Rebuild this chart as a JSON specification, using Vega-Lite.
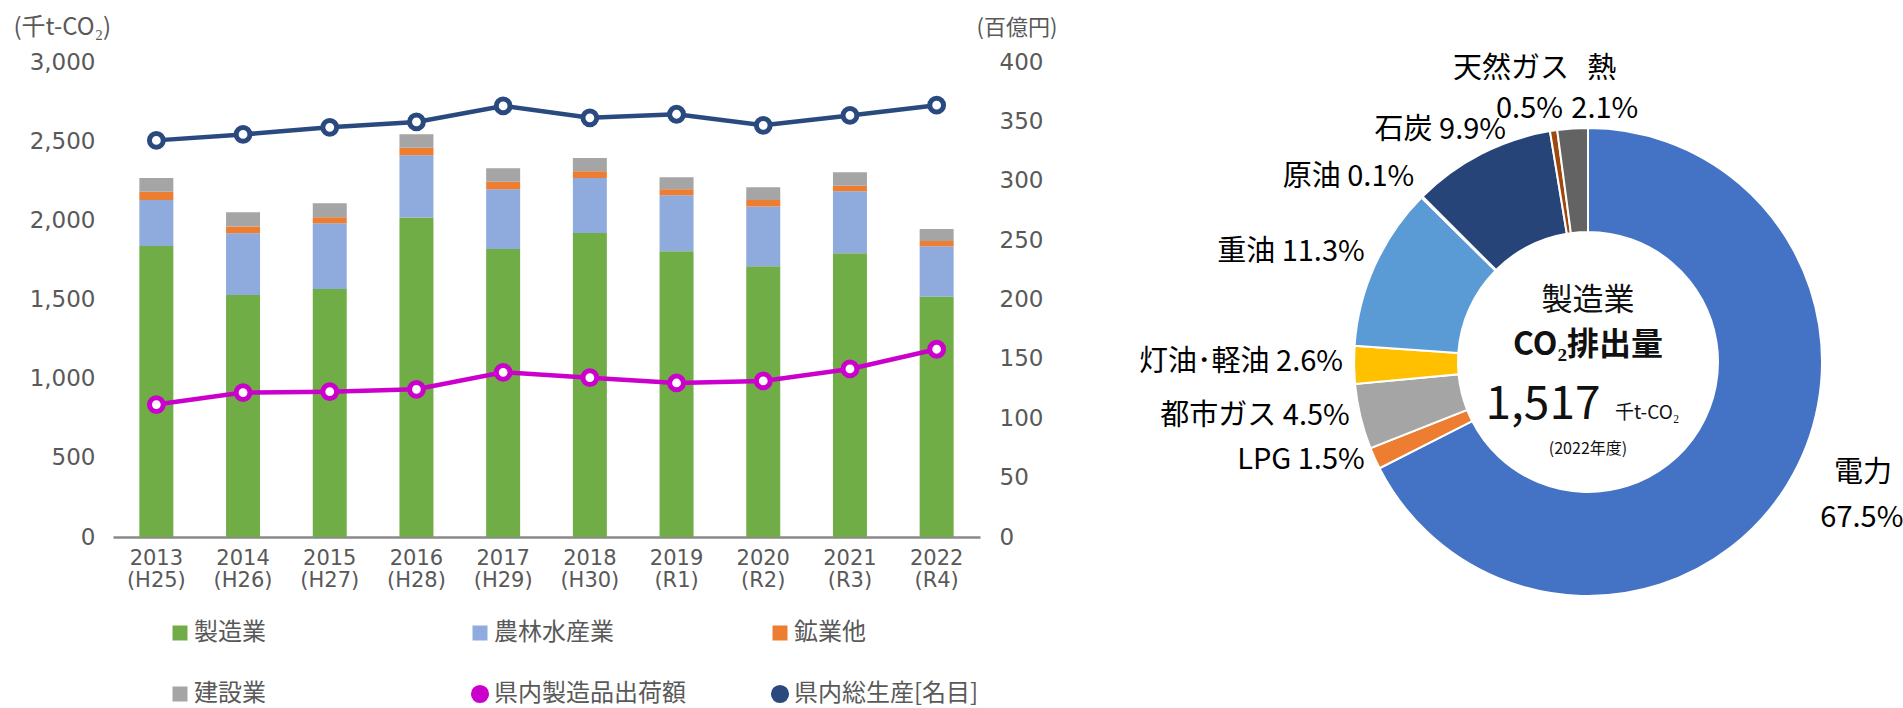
{
  "$schema": "https://vega.github.io/schema/vega-lite/v6.json",
  "padding": {"left": 13, "top": 15, "right": 2, "bottom": 2},
  "background": "white",
  "bounds": "flush",
  "spacing": 348,
  "config": {"view": {"stroke": null}, "font": "Noto Sans CJK JP", "axis": {"grid": false}},
  "resolve": {"scale": {"color": "independent"}, "legend": {"color": "independent"}},
  "hconcat": [
    {
      "width": 867,
      "height": 475,
      "layer": [
        {
          "data": {"values": [
            {"year": "2013 (H25)", "cat": "製造業", "k": 1, "v": 1838},
            {"year": "2013 (H25)", "cat": "農林水産業", "k": 2, "v": 291},
            {"year": "2013 (H25)", "cat": "鉱業他", "k": 3, "v": 51},
            {"year": "2013 (H25)", "cat": "建設業", "k": 4, "v": 88},
            {"year": "2014 (H26)", "cat": "製造業", "k": 1, "v": 1528},
            {"year": "2014 (H26)", "cat": "農林水産業", "k": 2, "v": 390},
            {"year": "2014 (H26)", "cat": "鉱業他", "k": 3, "v": 43},
            {"year": "2014 (H26)", "cat": "建設業", "k": 4, "v": 90},
            {"year": "2015 (H27)", "cat": "製造業", "k": 1, "v": 1566},
            {"year": "2015 (H27)", "cat": "農林水産業", "k": 2, "v": 416},
            {"year": "2015 (H27)", "cat": "鉱業他", "k": 3, "v": 38},
            {"year": "2015 (H27)", "cat": "建設業", "k": 4, "v": 88},
            {"year": "2016 (H28)", "cat": "製造業", "k": 1, "v": 2018},
            {"year": "2016 (H28)", "cat": "農林水産業", "k": 2, "v": 393},
            {"year": "2016 (H28)", "cat": "鉱業他", "k": 3, "v": 47},
            {"year": "2016 (H28)", "cat": "建設業", "k": 4, "v": 86},
            {"year": "2017 (H29)", "cat": "製造業", "k": 1, "v": 1819},
            {"year": "2017 (H29)", "cat": "農林水産業", "k": 2, "v": 378},
            {"year": "2017 (H29)", "cat": "鉱業他", "k": 3, "v": 46},
            {"year": "2017 (H29)", "cat": "建設業", "k": 4, "v": 86},
            {"year": "2018 (H30)", "cat": "製造業", "k": 1, "v": 1920},
            {"year": "2018 (H30)", "cat": "農林水産業", "k": 2, "v": 348},
            {"year": "2018 (H30)", "cat": "鉱業他", "k": 3, "v": 42},
            {"year": "2018 (H30)", "cat": "建設業", "k": 4, "v": 83},
            {"year": "2019 (R1)", "cat": "製造業", "k": 1, "v": 1805},
            {"year": "2019 (R1)", "cat": "農林水産業", "k": 2, "v": 354},
            {"year": "2019 (R1)", "cat": "鉱業他", "k": 3, "v": 38},
            {"year": "2019 (R1)", "cat": "建設業", "k": 4, "v": 75},
            {"year": "2020 (R2)", "cat": "製造業", "k": 1, "v": 1710},
            {"year": "2020 (R2)", "cat": "農林水産業", "k": 2, "v": 377},
            {"year": "2020 (R2)", "cat": "鉱業他", "k": 3, "v": 42},
            {"year": "2020 (R2)", "cat": "建設業", "k": 4, "v": 80},
            {"year": "2021 (R3)", "cat": "製造業", "k": 1, "v": 1792},
            {"year": "2021 (R3)", "cat": "農林水産業", "k": 2, "v": 392},
            {"year": "2021 (R3)", "cat": "鉱業他", "k": 3, "v": 34},
            {"year": "2021 (R3)", "cat": "建設業", "k": 4, "v": 86},
            {"year": "2022 (R4)", "cat": "製造業", "k": 1, "v": 1517},
            {"year": "2022 (R4)", "cat": "農林水産業", "k": 2, "v": 319},
            {"year": "2022 (R4)", "cat": "鉱業他", "k": 3, "v": 34},
            {"year": "2022 (R4)", "cat": "建設業", "k": 4, "v": 76}
          ]},
          "mark": {"type": "bar"},
          "encoding": {
            "x": {
              "field": "year", "type": "nominal", "sort": null,
              "scale": {"paddingInner": 0.608, "paddingOuter": 0.304},
              "axis": {
                "title": null, "labelAngle": 0, "ticks": false,
                "labelExpr": "split(datum.value, ' ')",
                "labelFont": "DejaVu Sans", "labelFontSize": 21, "labelColor": "#595959",
                "labelLineHeight": 22, "labelBaseline": "top", "labelPadding": 10,
                "domainColor": "#8a8a8a", "domainWidth": 2.5
              }
            },
            "y": {
              "field": "v", "type": "quantitative", "stack": "zero",
              "scale": {"domain": [0, 3000], "nice": false},
              "axis": {
                "values": [0, 500, 1000, 1500, 2000, 2500, 3000], "format": ",.0f",
                "domain": false, "ticks": false, "labelPadding": 18,
                "labelFont": "DejaVu Sans", "labelFontSize": 23, "labelColor": "#595959",
                "title": "(千t-CO₂)", "titleAngle": 0, "titleAlign": "left", "titleBaseline": "middle",
                "titleX": -100, "titleY": -35, "titleFont": "Noto Sans CJK JP", "titleFontSize": 24,
                "titleFontWeight": "normal", "titleColor": "#595959"
              }
            },
            "color": {
              "field": "cat", "type": "nominal",
              "scale": {
                "domain": ["製造業", "農林水産業", "鉱業他", "建設業", "県内製造品出荷額", "県内総生産[名目]"],
                "range": ["#70AD47", "#8FAADC", "#ED7D31", "#A5A5A5", "#CC00CC", "#2A4A7F"]
              },
              "legend": {
                "orient": "none", "legendX": 55, "legendY": 557, "direction": "horizontal",
                "columns": 3, "title": null, "padding": 0,
                "columnPadding": 78, "rowPadding": 31, "gridAlign": "all",
                "labelFontSize": 24, "labelColor": "#595959", "labelFont": "Noto Sans CJK JP",
                "labelLimit": 400, "labelOffset": 2,
                "symbolType": "square", "symbolSize": 225,
                "encode": {
                  "symbols": {
                    "update": {
                      "shape": {"signal": "(datum.value == '県内製造品出荷額' || datum.value == '県内総生産[名目]') ? 'circle' : 'square'"},
                      "fill": {"signal": "datum.value == '製造業' ? '#70AD47' : datum.value == '農林水産業' ? '#8FAADC' : datum.value == '鉱業他' ? '#ED7D31' : datum.value == '建設業' ? '#A5A5A5' : '#ffffff'"},
                      "stroke": {"signal": "datum.value == '県内製造品出荷額' ? '#CC00CC' : datum.value == '県内総生産[名目]' ? '#2A4A7F' : 'transparent'"},
                      "strokeWidth": {"signal": "(datum.value == '県内製造品出荷額' || datum.value == '県内総生産[名目]') ? 4 : 0"},
                      "size": {"signal": "(datum.value == '県内製造品出荷額' || datum.value == '県内総生産[名目]') ? 200 : 225"},
                      "opacity": {"value": 1},
                      "fillOpacity": {"value": 1}
                    }
                  }
                }
              }
            },
            "order": {"field": "k", "type": "quantitative"}
          }
        },
        {
          "data": {"values": [
            {"year": "2013 (H25)", "cat": "県内製造品出荷額", "v": 111.5},
            {"year": "2014 (H26)", "cat": "県内製造品出荷額", "v": 121.6},
            {"year": "2015 (H27)", "cat": "県内製造品出荷額", "v": 122.4},
            {"year": "2016 (H28)", "cat": "県内製造品出荷額", "v": 124.4},
            {"year": "2017 (H29)", "cat": "県内製造品出荷額", "v": 138.7},
            {"year": "2018 (H30)", "cat": "県内製造品出荷額", "v": 134.2},
            {"year": "2019 (R1)", "cat": "県内製造品出荷額", "v": 129.7},
            {"year": "2020 (R2)", "cat": "県内製造品出荷額", "v": 131.4},
            {"year": "2021 (R3)", "cat": "県内製造品出荷額", "v": 141.5},
            {"year": "2022 (R4)", "cat": "県内製造品出荷額", "v": 158.1},
            {"year": "2013 (H25)", "cat": "県内総生産[名目]", "v": 334},
            {"year": "2014 (H26)", "cat": "県内総生産[名目]", "v": 339},
            {"year": "2015 (H27)", "cat": "県内総生産[名目]", "v": 345},
            {"year": "2016 (H28)", "cat": "県内総生産[名目]", "v": 349.5},
            {"year": "2017 (H29)", "cat": "県内総生産[名目]", "v": 363},
            {"year": "2018 (H30)", "cat": "県内総生産[名目]", "v": 353},
            {"year": "2019 (R1)", "cat": "県内総生産[名目]", "v": 356},
            {"year": "2020 (R2)", "cat": "県内総生産[名目]", "v": 346.7},
            {"year": "2021 (R3)", "cat": "県内総生産[名目]", "v": 355},
            {"year": "2022 (R4)", "cat": "県内総生産[名目]", "v": 363.6}
          ]},
          "mark": {
            "type": "line", "strokeWidth": 4.5,
            "point": {"filled": false, "fill": "white", "size": 190, "strokeWidth": 5}
          },
          "encoding": {
            "x": {"field": "year", "type": "nominal", "sort": null},
            "y": {
              "field": "v", "type": "quantitative",
              "scale": {"domain": [0, 400], "nice": false},
              "axis": {
                "orient": "right",
                "values": [0, 50, 100, 150, 200, 250, 300, 350, 400],
                "domain": false, "ticks": false, "labelPadding": 19,
                "labelFont": "DejaVu Sans", "labelFontSize": 23, "labelColor": "#595959",
                "title": "(百億円)", "titleAngle": 0, "titleAlign": "left", "titleBaseline": "middle",
                "titleX": -4, "titleY": -35, "titleFont": "Noto Sans CJK JP", "titleFontSize": 22,
                "titleFontWeight": "normal", "titleColor": "#595959"
              }
            },
            "color": {"field": "cat", "type": "nominal"}
          }
        }
      ],
      "resolve": {"scale": {"y": "independent"}}
    },
    {
      "width": 520,
      "height": 600,
      "data": {"values": [
        {"src": "電力", "k": 1, "pct": 67.5, "lab": "電力", "p": "67.5%"},
        {"src": "LPG", "k": 2, "pct": 1.5, "lab": "LPG 1.5%", "p": "1.5%"},
        {"src": "都市ガス", "k": 3, "pct": 4.5, "lab": "都市ガス 4.5%", "p": "4.5%"},
        {"src": "灯油・軽油", "k": 4, "pct": 2.6, "lab": "灯油･軽油 2.6%", "p": "2.6%"},
        {"src": "重油", "k": 5, "pct": 11.3, "lab": "重油 11.3%", "p": "11.3%"},
        {"src": "原油", "k": 6, "pct": 0.1, "lab": "原油 0.1%", "p": "0.1%"},
        {"src": "石炭", "k": 7, "pct": 9.9, "lab": "石炭 9.9%", "p": "9.9%"},
        {"src": "天然ガス", "k": 8, "pct": 0.5, "lab": "天然ガス", "p": "0.5%"},
        {"src": "熱", "k": 9, "pct": 2.1, "lab": "熱", "p": "2.1%"}
      ]},
      "layer": [
        {
          "mark": {"type": "arc", "outerRadius": 234, "innerRadius": 130, "stroke": "white", "strokeWidth": 2},
          "encoding": {
            "theta": {"field": "pct", "type": "quantitative", "stack": true},
            "order": {"field": "k", "type": "quantitative"},
            "color": {
              "field": "src", "type": "nominal", "legend": null,
              "scale": {
                "domain": ["電力", "LPG", "都市ガス", "灯油・軽油", "重油", "原油", "石炭", "天然ガス", "熱"],
                "range": ["#4472C4", "#ED7D31", "#A5A5A5", "#FFC000", "#5B9BD5", "#70AD47", "#264478", "#9E480E", "#636363"]
              }
            }
          }
        },
        {
          "mark": {"type": "text", "radius": 245, "align": "right", "baseline": "middle", "fontSize": 29, "dy": -3, "color": "#000000"},
          "encoding": {
            "theta": {"field": "pct", "type": "quantitative", "stack": true},
            "order": {"field": "k", "type": "quantitative"},
            "text": {"condition": {"test": "datum.k >= 2 && datum.k <= 4", "field": "lab"}, "value": ""}
          }
        },
        {
          "mark": {"type": "text", "radius": 245, "align": "right", "baseline": "middle", "fontSize": 29, "dy": -9, "color": "#000000"},
          "encoding": {
            "theta": {"field": "pct", "type": "quantitative", "stack": true},
            "order": {"field": "k", "type": "quantitative"},
            "text": {"condition": {"test": "datum.k == 5", "field": "lab"}, "value": ""}
          }
        },
        {
          "mark": {"type": "text", "radius": 245, "align": "right", "baseline": "middle", "fontSize": 29, "dy": -12, "color": "#000000"},
          "encoding": {
            "theta": {"field": "pct", "type": "quantitative", "stack": true},
            "order": {"field": "k", "type": "quantitative"},
            "text": {"condition": {"test": "datum.k == 6", "field": "lab"}, "value": ""}
          }
        },
        {
          "mark": {"type": "text", "radius": 245, "align": "right", "baseline": "middle", "fontSize": 29, "dx": 30, "dy": -14, "color": "#000000"},
          "encoding": {
            "theta": {"field": "pct", "type": "quantitative", "stack": true},
            "order": {"field": "k", "type": "quantitative"},
            "text": {"condition": {"test": "datum.k == 7", "field": "lab"}, "value": ""}
          }
        },
        {
          "mark": {"type": "text", "radius": 245, "align": "right", "baseline": "middle", "fontSize": 29, "dx": 17, "dy": -51, "color": "#000000"},
          "encoding": {
            "theta": {"field": "pct", "type": "quantitative", "stack": true},
            "order": {"field": "k", "type": "quantitative"},
            "text": {"condition": {"test": "datum.k == 8", "field": "lab"}, "value": ""}
          }
        },
        {
          "mark": {"type": "text", "radius": 245, "align": "right", "baseline": "middle", "fontSize": 29, "dx": 11, "dy": -11, "color": "#000000"},
          "encoding": {
            "theta": {"field": "pct", "type": "quantitative", "stack": true},
            "order": {"field": "k", "type": "quantitative"},
            "text": {"condition": {"test": "datum.k == 8", "field": "p"}, "value": ""}
          }
        },
        {
          "mark": {"type": "text", "radius": 245, "align": "center", "baseline": "middle", "fontSize": 29, "dx": 30, "dy": -49, "color": "#000000"},
          "encoding": {
            "theta": {"field": "pct", "type": "quantitative", "stack": true},
            "order": {"field": "k", "type": "quantitative"},
            "text": {"condition": {"test": "datum.k == 9", "field": "lab"}, "value": ""}
          }
        },
        {
          "mark": {"type": "text", "radius": 245, "align": "center", "baseline": "middle", "fontSize": 29, "dx": 33, "dy": -9, "color": "#000000"},
          "encoding": {
            "theta": {"field": "pct", "type": "quantitative", "stack": true},
            "order": {"field": "k", "type": "quantitative"},
            "text": {"condition": {"test": "datum.k == 9", "field": "p"}, "value": ""}
          }
        },
        {
          "mark": {"type": "text", "radius": 245, "align": "center", "baseline": "middle", "fontSize": 29, "dx": 66, "dy": -17, "color": "#000000"},
          "encoding": {
            "theta": {"field": "pct", "type": "quantitative", "stack": true},
            "order": {"field": "k", "type": "quantitative"},
            "text": {"condition": {"test": "datum.k == 1", "field": "lab"}, "value": ""}
          }
        },
        {
          "mark": {"type": "text", "radius": 245, "align": "center", "baseline": "middle", "fontSize": 29, "dx": 65, "dy": 28, "color": "#000000"},
          "encoding": {
            "theta": {"field": "pct", "type": "quantitative", "stack": true},
            "order": {"field": "k", "type": "quantitative"},
            "text": {"condition": {"test": "datum.k == 1", "field": "p"}, "value": ""}
          }
        },
        {
          "data": {"values": [{"t": "製造業"}]},
          "mark": {"type": "text", "align": "center", "baseline": "alphabetic", "fontSize": 31, "dy": -52, "color": "#111111"},
          "encoding": {"text": {"field": "t"}}
        },
        {
          "data": {"values": [{"t": "CO₂排出量"}]},
          "mark": {"type": "text", "align": "center", "baseline": "alphabetic", "fontSize": 32, "fontWeight": "bold", "dy": -7, "color": "#111111"},
          "encoding": {"text": {"field": "t"}}
        },
        {
          "data": {"values": [{"t": "1,517"}]},
          "mark": {"type": "text", "align": "center", "baseline": "alphabetic", "fontSize": 46, "dx": -45, "dy": 57, "color": "#111111"},
          "encoding": {"text": {"field": "t"}}
        },
        {
          "data": {"values": [{"t": "千t-CO₂"}]},
          "mark": {"type": "text", "align": "left", "baseline": "alphabetic", "fontSize": 19, "dx": 27, "dy": 57, "color": "#111111"},
          "encoding": {"text": {"field": "t"}}
        },
        {
          "data": {"values": [{"t": "(2022年度)"}]},
          "mark": {"type": "text", "align": "center", "baseline": "alphabetic", "fontSize": 16, "dy": 92, "color": "#111111"},
          "encoding": {"text": {"field": "t"}}
        }
      ]
    }
  ]
}
